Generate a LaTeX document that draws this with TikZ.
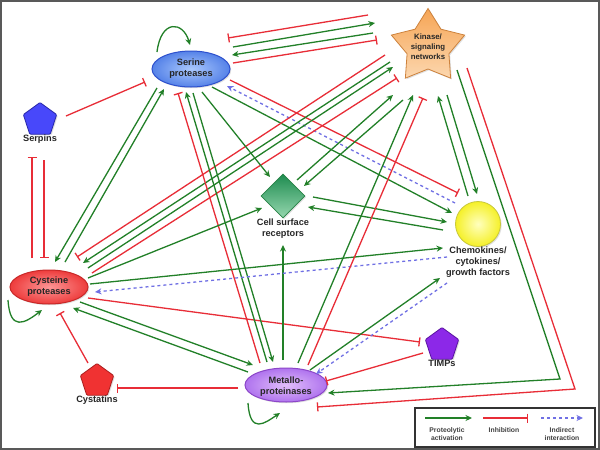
\documentclass[tikz,border=0pt]{standalone}
\usepackage{fontspec}
\setmainfont{Liberation Sans}
\usetikzlibrary{shapes.geometric,arrows.meta,calc,shadows}

\definecolor{gr}{RGB}{34,128,40}
\definecolor{rd}{RGB}{232,45,55}
\definecolor{bl}{RGB}{112,112,228}
\definecolor{serD}{RGB}{45,80,205}
\definecolor{serI}{RGB}{170,200,252}
\definecolor{serO}{RGB}{85,130,232}
\definecolor{cysD}{RGB}{200,40,40}
\definecolor{cysI}{RGB}{252,150,150}
\definecolor{cysO}{RGB}{238,60,60}
\definecolor{metD}{RGB}{140,70,200}
\definecolor{metI}{RGB}{225,190,250}
\definecolor{metO}{RGB}{175,115,238}
\definecolor{kinD}{RGB}{205,130,60}
\definecolor{kinT}{RGB}{246,165,85}
\definecolor{kinB}{RGB}{252,215,175}
\definecolor{csrD}{RGB}{40,130,70}
\definecolor{csrT}{RGB}{30,140,80}
\definecolor{csrB}{RGB}{150,215,175}
\definecolor{cheD}{RGB}{200,200,60}
\definecolor{cheI}{RGB}{255,255,190}
\definecolor{cheO}{RGB}{245,240,40}
\definecolor{spF}{RGB}{72,72,250}
\definecolor{spD}{RGB}{40,40,170}
\definecolor{cyF}{RGB}{240,50,50}
\definecolor{cyD}{RGB}{170,30,30}
\definecolor{tiF}{RGB}{140,40,232}
\definecolor{tiD}{RGB}{90,20,160}

\begin{document}
\begin{tikzpicture}[x=1pt,y=-1pt,
  act/.style={draw=gr, line width=1.3pt, -{Stealth[length=6.5pt,width=6pt]}},
  inh/.style={draw=rd, line width=1.3pt, -{Bar[width=9pt]}},
  ind/.style={draw=bl, line width=1.3pt, dash pattern=on 3pt off 3pt, -{Stealth[length=6.5pt,width=6pt]}},
  lbl/.style={font=\fontsize{9.2}{10.8}\selectfont\bfseries, align=center, text=black!85, inner sep=0pt},
  klbl/.style={font=\fontsize{7.8}{10}\selectfont\bfseries, align=center, text=black!85, inner sep=0pt},
  leg/.style={font=\fontsize{6.8}{8}\selectfont\bfseries, align=center, text=black!75, inner sep=0pt},
  shad/.style={drop shadow={opacity=0.25, shadow xshift=1.2pt, shadow yshift=-1.2pt}},
  ell/.style={ellipse, inner sep=0pt, line width=1pt, shad},
  pent/.style={regular polygon, regular polygon sides=5, minimum size=35pt, inner sep=0pt, line width=0.8pt, rounded corners=1pt, shad},
]
\useasboundingbox (0,0) rectangle (600,450);
\fill[white] (0,0) rectangle (600,450);
\draw[line width=2.2pt, black!65] (1,1) rectangle (599,449);

% ---------- nodes ----------
\node[ell, minimum width=78pt, minimum height=36pt, draw=serD, inner color=serI, outer color=serO,
      label={[lbl]center:Serine\\proteases}] (serine) at (191,69) {};
\node[ell, minimum width=78pt, minimum height=34pt, draw=cysD, inner color=cysI, outer color=cysO,
      label={[lbl]center:Cysteine\\proteases}] (cysteine) at (49,287) {};
\node[ell, minimum width=82pt, minimum height=34pt, draw=metD, inner color=metI, outer color=metO,
      label={[lbl,yshift=-2pt]center:Metallo-\\proteinases}] (metallo) at (286,385) {};
\node[star, star points=5, star point ratio=1.75, minimum size=77pt, inner sep=0pt, line width=0.8pt,
      draw=kinD, top color=kinT, bottom color=kinB, shad,
      label={[klbl]center:Kinase/\\signaling\\networks}] (kinase) at (428,47) {};
\node[pent, draw=spD, fill=spF,
      label distance=5pt, label={[lbl]below:Serpins}] (serpins) at (40,120) {};
\node[pent, draw=cyD, fill=cyF,
      label distance=5pt, label={[lbl]below:Cystatins}] (cystatins) at (97,381) {};
\node[pent, draw=tiD, fill=tiF,
      label distance=5pt, label={[lbl]below:TIMPs}] (timps) at (442,345) {};
\node[diamond, minimum width=44pt, minimum height=44pt, inner sep=0pt, line width=0.8pt,
      draw=csrD, top color=csrT, bottom color=csrB, shad,
      label distance=4pt, label={[lbl]below:Cell surface\\receptors}] (csr) at (283,196) {};
\node[circle, minimum size=45pt, inner sep=0pt, line width=0.8pt, draw=cheD, inner color=cheI, outer color=cheO, shad,
      label distance=5pt, label={[lbl]below:Chemokines/\\cytokines/\\growth factors}] (chemo) at (478,224) {};

% ---------- self loops ----------
\draw[act] ($(serine)+(-34,-17)$) .. controls ($(serine)+(-30,-50)$) and ($(serine)+(-8,-48)$) .. ($(serine)+(-1,-24)$);
\draw[act] ($(cysteine)+(-41,13)$) .. controls ($(cysteine)+(-39,45)$) and ($(cysteine)+(-24,36)$) .. ($(cysteine)+(-7,23)$);
\draw[act] ($(metallo)+(-38,18)$) .. controls ($(metallo)+(-36,50)$) and ($(metallo)+(-21,38)$) .. ($(metallo)+(-6,28)$);

% ---------- serine <-> kinase ----------
\draw[inh] ($(kinase)+(-60,-32)$) -- ($(serine)+(37,-31)$);
\draw[act] ($(serine)+(42,-22)$) -- ($(kinase)+(-53,-24)$);
\draw[act] ($(kinase)+(-55,-14)$) -- ($(serine)+(41,-14)$);
\draw[inh] ($(serine)+(42,-6)$) -- ($(kinase)+(-51,-7)$);

% ---------- serpins ----------
\draw[inh] ($(serpins)+(26,-4)$) -- ($(serine)+(-46,13)$);
\draw[inh] ($(cysteine)+(-17,-29)$) -- ($(serpins)+(-8,37)$);
\draw[inh] ($(serpins)+(4,40)$) -- ($(cysteine)+(-5,-29)$);

% ---------- cystatins / timps ----------
\draw[inh] ($(cystatins)+(-9,-18)$) -- ($(cysteine)+(11,26)$);
\draw[inh] ($(metallo)+(-48,3)$) -- ($(cystatins)+(20,7)$);
\draw[inh] ($(timps)+(-19,8)$) -- ($(metallo)+(40,-4)$);
\draw[inh] ($(cysteine)+(39,11)$) -- ($(timps)+(-22,-3)$);

% ---------- kinase -> metallo (outer) ----------
\coordinate (cg) at (560,379);
\coordinate (cr) at (575,389);
\draw[act] ($(kinase)+(29,23)$) -- (cg) -- ($(metallo)+(42,8)$);
\draw[inh] ($(kinase)+(39,21)$) -- (cr) -- ($(metallo)+(31,22)$);

% ---------- kinase <-> chemokines ----------
\draw[act] ($(chemo)+(-10,-28)$) -- ($(kinase)+(10,49)$);
\draw[act] ($(kinase)+(19,48)$) -- ($(chemo)+(-1,-30)$);

% ---------- serine <-> chemokines ----------
\draw[inh] ($(serine)+(39,11)$) -- ($(chemo)+(-20,-31)$);
\draw[ind] ($(chemo)+(-23,-21)$) -- ($(serine)+(36,17)$);
\draw[act] ($(serine)+(21,18)$) -- ($(chemo)+(-26,-11)$);

% ---------- cysteine <-> kinase ----------
\draw[inh] ($(kinase)+(-43,8)$) -- ($(cysteine)+(28,-30)$);
\draw[act] ($(kinase)+(-38,15)$) -- ($(cysteine)+(34,-24)$);
\draw[act] ($(cysteine)+(39,-19)$) -- ($(kinase)+(-35,20)$);
\draw[inh] ($(cysteine)+(43,-14)$) -- ($(kinase)+(-31,31)$);

% ---------- serine <-> cysteine ----------
\draw[act] ($(serine)+(-34,19)$) -- ($(cysteine)+(6,-25)$);
\draw[act] ($(cysteine)+(16,-25)$) -- ($(serine)+(-27,20)$);

% ---------- serine <-> metallo ----------
\draw[inh] ($(metallo)+(-26,-22)$) -- ($(serine)+(-13,24)$);
\draw[act] ($(metallo)+(-19,-23)$) -- ($(serine)+(-5,23)$);
\draw[act] ($(serine)+(2,24)$) -- ($(metallo)+(-13,-23)$);

% ---------- cell surface receptors ----------
\draw[act] ($(serine)+(11,23)$) -- ($(csr)+(-13,-19)$);
\draw[act] ($(csr)+(14,-16)$) -- ($(kinase)+(-35,48)$);
\draw[act] ($(kinase)+(-25,53)$) -- ($(csr)+(21,-10)$);
\draw[act] ($(csr)+(30,1)$) -- ($(chemo)+(-31,-2)$);
\draw[act] ($(chemo)+(-35,6)$) -- ($(csr)+(25,11)$);
\draw[act] ($(cysteine)+(39,-9)$) -- ($(csr)+(-21,12)$);
\draw[act] ($(metallo)+(-3,-25)$) -- ($(csr)+(0,49)$);

% ---------- chemokines ----------
\draw[act] ($(cysteine)+(41,-3)$) -- ($(chemo)+(-35,24)$);
\draw[ind] ($(chemo)+(-31,33)$) -- ($(cysteine)+(46,5)$);
\draw[act] ($(metallo)+(24,-15)$) -- ($(chemo)+(-38,54)$);
\draw[ind] ($(chemo)+(-31,59)$) -- ($(metallo)+(30,-11)$);

% ---------- metallo <-> kinase ----------
\draw[act] ($(metallo)+(12,-22)$) -- ($(kinase)+(-15,48)$);
\draw[inh] ($(metallo)+(22,-20)$) -- ($(kinase)+(-5,51)$);

% ---------- cysteine <-> metallo ----------
\draw[act] ($(cysteine)+(31,15)$) -- ($(metallo)+(-33,-20)$);
\draw[act] ($(metallo)+(-38,-13)$) -- ($(cysteine)+(24,21)$);

% ---------- legend ----------
\draw[line width=1.2pt, black!80] (415,408) rectangle (595,447);
\coordinate (la) at (425,418); \coordinate (lb) at (472,418);
\coordinate (lc) at (483,418); \coordinate (ld) at (528,418);
\coordinate (le) at (541,418); \coordinate (lf) at (583,418);
\draw[act] (la) -- (lb);
\draw[inh] (lc) -- (ld);
\draw[ind] (le) -- (lf);
\node[leg] (lt1) at (447,434) {Proteolytic\\activation};
\node[leg] (lt2) at (504,430) {Inhibition};
\node[leg] (lt3) at (562,434) {Indirect\\interaction};
\end{tikzpicture}
\end{document}
